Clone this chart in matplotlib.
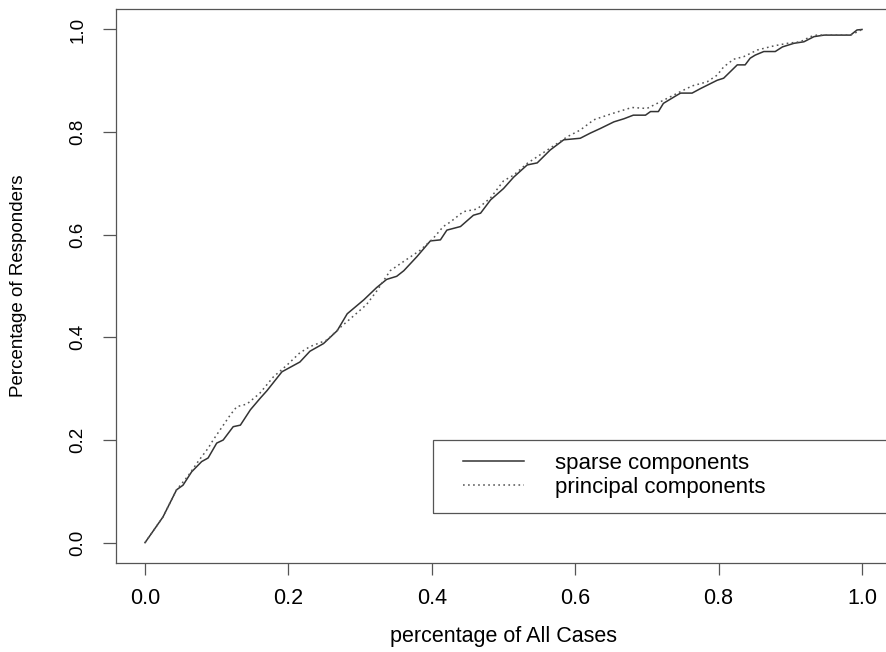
import matplotlib
matplotlib.use("Agg")
import matplotlib.pyplot as plt
from matplotlib.patches import Rectangle

plt.rcParams["font.family"] = ["Liberation Sans", "DejaVu Sans"]

# values
sparse_x = [0.000, 0.025, 0.044, 0.053, 0.065, 0.079, 0.088, 0.100, 0.109, 0.123,
            0.133, 0.147, 0.161, 0.170, 0.191, 0.216, 0.230, 0.249, 0.268, 0.282,
            0.305, 0.323, 0.337, 0.351, 0.361, 0.379, 0.398, 0.412, 0.421, 0.440,
            0.458, 0.468, 0.482, 0.500, 0.514, 0.533, 0.547, 0.565, 0.584, 0.607,
            0.621, 0.635, 0.654, 0.668, 0.681, 0.698, 0.705, 0.716, 0.723, 0.742,
            0.747, 0.763, 0.775, 0.798, 0.807, 0.826, 0.837, 0.844, 0.851, 0.863,
            0.879, 0.889, 0.905, 0.919, 0.933, 0.947, 0.984, 0.993, 1.000]
sparse_y = [0.000, 0.050, 0.103, 0.112, 0.138, 0.158, 0.165, 0.194, 0.200, 0.226,
            0.229, 0.259, 0.282, 0.296, 0.333, 0.352, 0.373, 0.388, 0.413, 0.446,
            0.473, 0.497, 0.513, 0.519, 0.530, 0.557, 0.588, 0.590, 0.609, 0.616,
            0.638, 0.642, 0.668, 0.690, 0.712, 0.736, 0.740, 0.765, 0.785, 0.788,
            0.798, 0.807, 0.820, 0.826, 0.833, 0.833, 0.840, 0.840, 0.856, 0.872,
            0.876, 0.876, 0.885, 0.901, 0.905, 0.931, 0.931, 0.944, 0.950, 0.957,
            0.957, 0.966, 0.973, 0.976, 0.986, 0.989, 0.989, 0.999, 1.000]

principal_x = [0.000, 0.025, 0.044, 0.060, 0.075, 0.088, 0.095, 0.119, 0.128, 0.142,
               0.160, 0.179, 0.198, 0.216, 0.230, 0.254, 0.272, 0.291, 0.309, 0.323,
               0.342, 0.365, 0.384, 0.402, 0.416, 0.426, 0.444, 0.463, 0.482, 0.500,
               0.514, 0.533, 0.561, 0.589, 0.607, 0.626, 0.649, 0.679, 0.700, 0.723,
               0.747, 0.763, 0.784, 0.798, 0.807, 0.821, 0.835, 0.854, 0.877, 0.896,
               0.914, 0.928, 0.937, 0.984, 0.993, 1.000]
principal_y = [0.000, 0.050, 0.103, 0.130, 0.160, 0.184, 0.200, 0.249, 0.265, 0.270,
               0.291, 0.323, 0.346, 0.370, 0.382, 0.395, 0.419, 0.442, 0.464, 0.490,
               0.530, 0.552, 0.570, 0.593, 0.616, 0.625, 0.645, 0.650, 0.672, 0.705,
               0.716, 0.739, 0.765, 0.791, 0.804, 0.824, 0.835, 0.848, 0.846, 0.862,
               0.879, 0.890, 0.898, 0.911, 0.927, 0.942, 0.947, 0.960, 0.968, 0.973,
               0.976, 0.986, 0.989, 0.989, 0.995, 1.000]

ticks = [0.0, 0.2, 0.4, 0.6, 0.8, 1.0]
tick_labels = ["0.0", "0.2", "0.4", "0.6", "0.8", "1.0"]

fig = plt.figure(figsize=(8.86, 6.52), dpi=100)
# right edge of the box sits just past the image border, as in the original
ax = fig.add_axes([0.1313, 0.1362, 0.8740, 0.8501])

ax.plot(sparse_x, sparse_y, color="#333333", lw=1.1, label="sparse components")
ax.plot(principal_x, principal_y, color="#555555", lw=1.1,
        linestyle=(0, (1.1, 2.2)), label="principal components")

ax.set_xlim(-0.04, 1.04)
ax.set_ylim(-0.04, 1.04)
ax.set_xticks(ticks)
ax.set_xticklabels(tick_labels, fontsize=15.5)
ax.set_yticks(ticks)
ax.set_yticklabels(tick_labels, fontsize=13.5, rotation=90, va="center")
ax.tick_params(axis="x", length=8.6, width=0.9, color="#555555", pad=9.5)
ax.tick_params(axis="y", length=9.5, width=0.9, color="#555555", pad=12)
for s in ax.spines.values():
    s.set_color("#555555")
    s.set_linewidth(0.9)

ax.set_xlabel("percentage of All Cases", fontsize=15.5)
ax.xaxis.set_label_coords(0.5, -0.133)
ax.xaxis.label.set_va("center")
ax.set_ylabel("Percentage of Responders", fontsize=13.5)
ax.yaxis.set_label_coords(-0.126, 0.5)
ax.yaxis.label.set_va("center")

# legend frame (R style box running off the right edge)
ax.add_patch(Rectangle((0.4015, 0.058), 0.7, 0.142, fill=False,
                       edgecolor="#555555", lw=0.9))
ax.legend(loc="center left", bbox_to_anchor=(0.4438, 0.131),
          bbox_transform=ax.transData, frameon=False, fontsize=16,
          borderpad=0, borderaxespad=0, labelspacing=0.12,
          handlelength=2.75, handletextpad=1.4)

fig.savefig("out.png", dpi=100)
